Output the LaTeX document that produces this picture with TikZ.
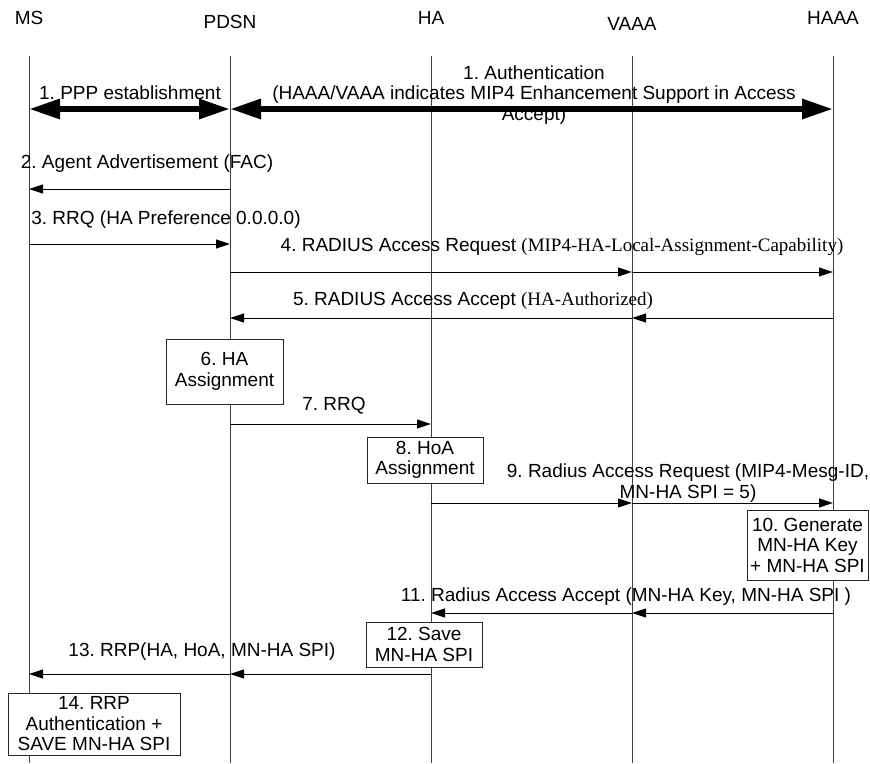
\documentclass[tikz,border=0pt]{standalone}
\usepackage{fontspec}
\setmainfont{Liberation Sans}
\newfontfamily\trm{Liberation Serif}
\usetikzlibrary{arrows.meta}

\begin{document}
\begin{tikzpicture}[
x=1pt, y=-1pt,
every node/.style={font=\fontsize{19}{20.5}\selectfont\frenchspacing},
hdr/.style={inner sep=0pt, text height=14pt, text depth=0pt},
life/.style={draw=black!75, line width=0.9pt},
lbl/.style={inner sep=0pt, text height=14pt, text depth=4pt},
lbl2/.style={inner sep=0pt, align=center},
proc/.style={draw=black!85, fill=white, line width=0.9pt, inner sep=0pt, align=center},
msg/.style={-{Triangle[length=14pt, width=9pt]}, line width=1pt},
bidi/.style={{Triangle[length=31pt, width=19pt]}-{Triangle[length=31pt, width=19pt]}, line width=6pt}
]
\useasboundingbox (0,0) rectangle (870,763);

\node[hdr] (msh) at (29,17) {MS};
\node[hdr] (pdsnh) at (230,21) {PDSN};
\node[hdr] (hah) at (431,17) {HA};
\node[hdr] (vaaah) at (632,23) {VAAA};
\node[hdr] (haaah) at (833,17) {HAAA};

\coordinate (ms) at (29,56);
\coordinate (pdsn) at (230,56);
\coordinate (ha) at (431,56);
\coordinate (vaaa) at (632,56);
\coordinate (haaa) at (833,56);
\coordinate (bot) at (0,763);

\draw[life] (ms) -- (ms |- bot);
\draw[life] (pdsn) -- (pdsn |- bot);
\draw[life] (ha) -- (ha |- bot);
\draw[life] (vaaa) -- (vaaa |- bot);
\draw[life] (haaa) -- (haaa |- bot);

\coordinate (r1) at (0,109);
\coordinate (r2) at (0,189);
\coordinate (r3) at (0,244);
\coordinate (r4) at (0,272);
\coordinate (r5) at (0,318);
\coordinate (r7) at (0,424);
\coordinate (r9) at (0,503);
\coordinate (r11) at (0,613);
\coordinate (r13) at (0,674);

\node[proc, minimum width=117pt, minimum height=65pt] (b6) at (224.5,371.5) {6. HA\\Assignment};
\node[proc, minimum width=116pt, minimum height=46pt] (b8) at (425,460) {8. HoA\\Assignment};
\node[proc, minimum width=121pt, minimum height=70pt] (b10) at (807.5,545) {10. Generate\\MN-HA Key\\+ MN-HA SPI};
\node[proc, minimum width=116pt, minimum height=45pt] (b12) at (424,644.5) {12. Save\\MN-HA SPI};
\node[proc, minimum width=172pt, minimum height=62pt] (b14) at (94,724) {14. RRP\\Authentication +\\SAVE MN-HA SPI};

\node[lbl] (t1a) at (130,94) {1. PPP establishment};
\node[lbl2] (t1b) at (534,95) {1. Authentication\\(HAAA/VAAA indicates MIP4 Enhancement Support in Access\\Accept)};
\node[lbl] (t2) at (147,163) {2. Agent Advertisement (FAC)};
\node[lbl] (t3) at (166,219) {3. RRQ (HA Preference 0.0.0.0)};
\node[lbl] (t4) at (562,246) {4. RADIUS Access Request {\trm(MIP4-HA-Local-Assignment-Capability)}};
\node[lbl] (t5) at (473,300) {5. RADIUS Access Accept {\trm(HA-Authorized)}};
\node[lbl] (t7) at (334,405) {7. RRQ};
\node[lbl2] (t9) at (688,483) {9. Radius Access Request (MIP4-Mesg-ID,\\MN-HA SPI = 5)};
\node[lbl] (t11) at (626,596) {11. Radius Access Accept (MN-HA Key, MN-HA SPI )};
\node[lbl] (t13) at (202,651) {13. RRP(HA, HoA, MN-HA SPI)};

\draw[bidi] (r1 -| ms) -- (r1 -| pdsn);
\draw[bidi] (r1 -| pdsn) -- (r1 -| haaa);
\draw[msg] (r2 -| pdsn) -- (r2 -| ms);
\draw[msg] (r3 -| ms) -- (r3 -| pdsn);
\draw[msg] (r4 -| pdsn) -- (r4 -| vaaa);
\draw[msg] (r4 -| vaaa) -- (r4 -| haaa);
\draw[msg] (r5 -| haaa) -- (r5 -| vaaa);
\draw[msg] (r5 -| vaaa) -- (r5 -| pdsn);
\draw[msg] (r7 -| pdsn) -- (r7 -| ha);
\draw[msg] (r9 -| ha) -- (r9 -| vaaa);
\draw[msg] (r9 -| vaaa) -- (r9 -| haaa);
\draw[msg] (r11 -| haaa) -- (r11 -| vaaa);
\draw[msg] (r11 -| vaaa) -- (r11 -| ha);
\draw[msg] (r13 -| ha) -- (r13 -| pdsn);
\draw[msg] (r13 -| pdsn) -- (r13 -| ms);
\end{tikzpicture}
\end{document}
